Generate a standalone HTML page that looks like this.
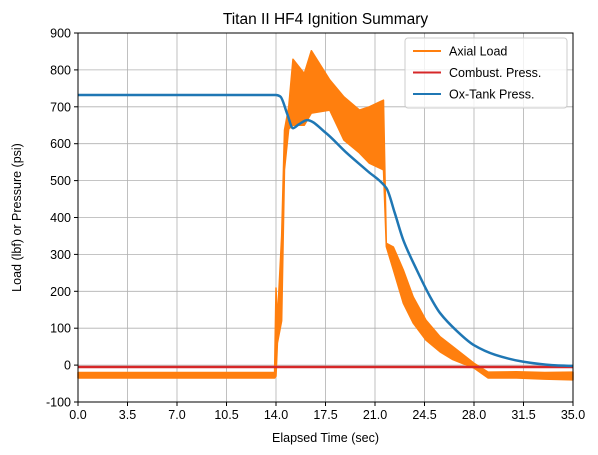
<!DOCTYPE html>
<html><head><meta charset="utf-8"><style>
body{margin:0;background:#fff;}
svg{display:block;font-family:"Liberation Sans","DejaVu Sans",sans-serif;}
</style></head><body>
<svg id="chart" width="598" height="455"></svg>
<script>
const xTicks=[0,3.5,7,10.5,14,17.5,21,24.5,28,31.5,35];
const yTicks=[-100,0,100,200,300,400,500,600,700,800,900];
// Axial load envelope (time, low, high)
const loadT=[0,13.9,14.0,14.1,14.4,14.6,14.9,15.2,16.0,16.5,17.8,18.8,19.9,20.6,21.6,21.8,22.3,23.0,23.7,24.6,25.6,26.5,28.0,29.0,31.0,33.0,35.0];
const loadLo=[-35,-35,-30,60,120,530,640,650,650,683,691,610,575,547,529,321,258,168,114,68,36,15,-8,-35,-35,-38,-40];
const loadHi=[-20,-20,209,122,350,637,700,829,790,852,773,727,691,700,718,330,320,258,185,122,77,50,5,-19,-18,-20,-19];
// Ox-tank pressure
const oxT=[0,14.0,14.3,14.8,15.2,15.6,16.2,17.5,19.0,20.5,21.8,22.4,23.0,23.95,24.9,25.6,26.8,28.0,29.5,31.5,33.5,35.0];
const oxV=[732,732,728,680,642,652,664,630,575,525,480,412,339,258,185,141,92,54,28,9,0,-2];
// Combustion pressure
const cT=[0,35];
const cV=[-5,-5];
const L=78,R=573,T=33,B=402;
const X=t=>L+(t-0)*(R-L)/35;
const Y=v=>B-(v+100)*(B-T)/1000;
const svg=document.getElementById('chart');
const NS='http://www.w3.org/2000/svg';
function mk(tag,attrs,parent){const e=document.createElementNS(NS,tag);for(const k in attrs)e.setAttribute(k,attrs[k]);(parent||svg).appendChild(e);return e;}
function smooth(P){const n=P.length,m=[];
 for(let i=0;i<n;i++){if(i==0||i==n-1){m.push(0);continue;}
  const s0=(P[i][1]-P[i-1][1])/(P[i][0]-P[i-1][0]),s1=(P[i+1][1]-P[i][1])/(P[i+1][0]-P[i][0]);
  m.push(s0*s1<=0?0:2/(1/s0+1/s1));}
 let d='M'+P[0][0]+','+P[0][1];
 for(let i=0;i<n-1;i++){const dx=(P[i+1][0]-P[i][0])/3;
  d+=' C'+(P[i][0]+dx)+','+(P[i][1]+m[i]*dx)+' '+(P[i+1][0]-dx)+','+(P[i+1][1]-m[i+1]*dx)+' '+P[i+1][0]+','+P[i+1][1];}
 return d;}
const grid=mk('g',{});


xTicks.forEach(t=>{mk('line',{x1:X(t),x2:X(t),y1:T,y2:B,stroke:'#b0b0b0','stroke-width':0.8},grid);});
yTicks.forEach(v=>{mk('line',{x1:L,x2:R,y1:Y(v),y2:Y(v),stroke:'#b0b0b0','stroke-width':0.8},grid);});
let pts=[];
for(let i=0;i<loadT.length;i++)pts.push(X(loadT[i])+','+Y(loadHi[i]));
for(let i=loadT.length-1;i>=0;i--)pts.push(X(loadT[i])+','+Y(loadLo[i]));
const band=mk('polygon',{points:pts.join(' '),fill:'#ff7f0e',stroke:'#ff7f0e','stroke-width':1.5,'stroke-linejoin':'round'});


const red=mk('polyline',{points:cT.map((t,i)=>X(t)+','+Y(cV[i])).join(' '),fill:'none',stroke:'#d62728','stroke-width':2.5});


const blue=mk('path',{d:smooth(oxT.map((t,i)=>[X(t),Y(oxV[i])])),fill:'none',stroke:'#1f77b4','stroke-width':2.5,'stroke-linejoin':'round'});


const frame=mk('rect',{x:L,y:T,width:R-L,height:B-T,fill:'none',stroke:'#000','stroke-width':1});


xTicks.forEach(t=>{mk('line',{x1:X(t),x2:X(t),y1:B,y2:B+4,stroke:'#000'});
 const tx=mk('text',{x:X(t),y:B+17,'text-anchor':'middle','font-size':12.5});tx.textContent=t.toFixed(1);
 
 });
yTicks.forEach(v=>{mk('line',{x1:L-4,x2:L,y1:Y(v),y2:Y(v),stroke:'#000'});
 const tx=mk('text',{x:L-7,y:Y(v)+4.5,'text-anchor':'end','font-size':12.5});tx.textContent=v;
 
 });
const title=mk('text',{x:(L+R)/2,y:24,'text-anchor':'middle','font-size':15.5});title.textContent='Titan II HF4 Ignition Summary';


const xt=mk('text',{x:(L+R)/2,y:442,'text-anchor':'middle','font-size':12.5});xt.textContent='Elapsed Time (sec)';


const yt=mk('text',{x:0,y:0,'text-anchor':'middle','font-size':12.5,transform:'translate(21,'+((T+B)/2)+') rotate(-90)'});yt.textContent='Load (lbf) or Pressure (psi)';


const lg=mk('g',{});


mk('rect',{x:405,y:38,width:162,height:70,rx:3,fill:'#fff','fill-opacity':0.8,stroke:'#ccc'},lg);
[['Axial Load','#ff7f0e'],['Combust. Press.','#d62728'],['Ox-Tank Press.','#1f77b4']].forEach((d,i)=>{
 const y=51+i*21.5;
 mk('line',{x1:413,x2:441,y1:y,y2:y,stroke:d[1],'stroke-width':2},lg);
 const t=mk('text',{x:449,y:y+4.5,'font-size':12.5},lg);t.textContent=d[0];
 
 
});
</script>
</body></html>
